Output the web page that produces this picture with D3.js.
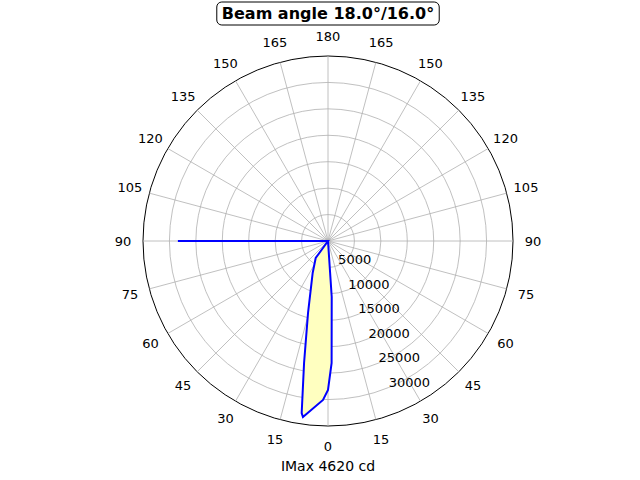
<!DOCTYPE html><html><head><script src="https://cdn.jsdelivr.net/npm/d3@7"></script>
<style>body{margin:0}text{font-family:"DejaVu Sans";font-size:13px}</style></head><body>
<svg width="640" height="480"></svg>
<script>
const angles=[-90,-10,-3.8,-1.7,0,1.8,8.1,8.7,11.1,15.5,25.6,35.9,45,89,90,91];
const values=[0,0,10610,23090,28190,30090,33630,32920,23520,14130,6710,3970,0,0,28400,0];
const rTicks=[5000,10000,15000,20000,25000,30000,35000];
const angleTicks=d3.range(0,360,15);
const svg=d3.select("svg"),cx=328,cy=241,R=185;
const r=d3.scaleLinear().domain([0,35000]).range([0,R]);
const pt=(a,v)=>{const t=a*Math.PI/180;return [cx-r(v)*Math.sin(t),cy+r(v)*Math.cos(t)];};
const g=svg.append("g");
rTicks.forEach(v=>g.append("circle").attr("cx",cx).attr("cy",cy).attr("r",r(v)).attr("fill","none").attr("stroke",v==35000?"#000":"#b0b0b0").attr("stroke-width",v==35000?1:0.8));
angleTicks.forEach(a=>{const p=pt(a,35000);g.append("line").attr("x1",cx).attr("y1",cy).attr("x2",p[0]).attr("y2",p[1]).attr("stroke","#b0b0b0").attr("stroke-width",0.8);
 const t=a*Math.PI/180,q=[cx-205*Math.sin(t),cy+205*Math.cos(t)];
 const lab=a<=180?a:360-a;
 g.append("text").attr("x",q[0]).attr("y",q[1]).attr("text-anchor","middle").attr("dominant-baseline","central").text(lab);});
const pts=angles.map((a,i)=>pt(a,values[i]));
const line=d3.line().curve(d3.curveLinearClosed);
g.append("path").attr("d",line(pts)).attr("fill","#ffffc0").attr("stroke","blue").attr("stroke-width",2);
rTicks.slice(0,6).forEach(v=>{const p=pt(-22.5,v);g.append("text").attr("x",p[0]).attr("y",p[1]-1).attr("text-anchor","start").text(v);});
const box=svg.append("rect");
const tt=svg.append("text").attr("x",328).attr("y",19).attr("text-anchor","middle").style("font-weight","bold").style("font-size","16px").text("Beam angle 18.0°/16.0°");
const bb=tt.node().getBBox();
box.attr("x",bb.x-5).attr("y",bb.y-2).attr("width",bb.width+10).attr("height",bb.height+4).attr("rx",5).attr("fill","#fff").attr("stroke","#000");
svg.append("text").attr("x",328).attr("y",471).attr("text-anchor","middle").style("font-size","14px").text("IMax 4620 cd");
</script></body></html>
